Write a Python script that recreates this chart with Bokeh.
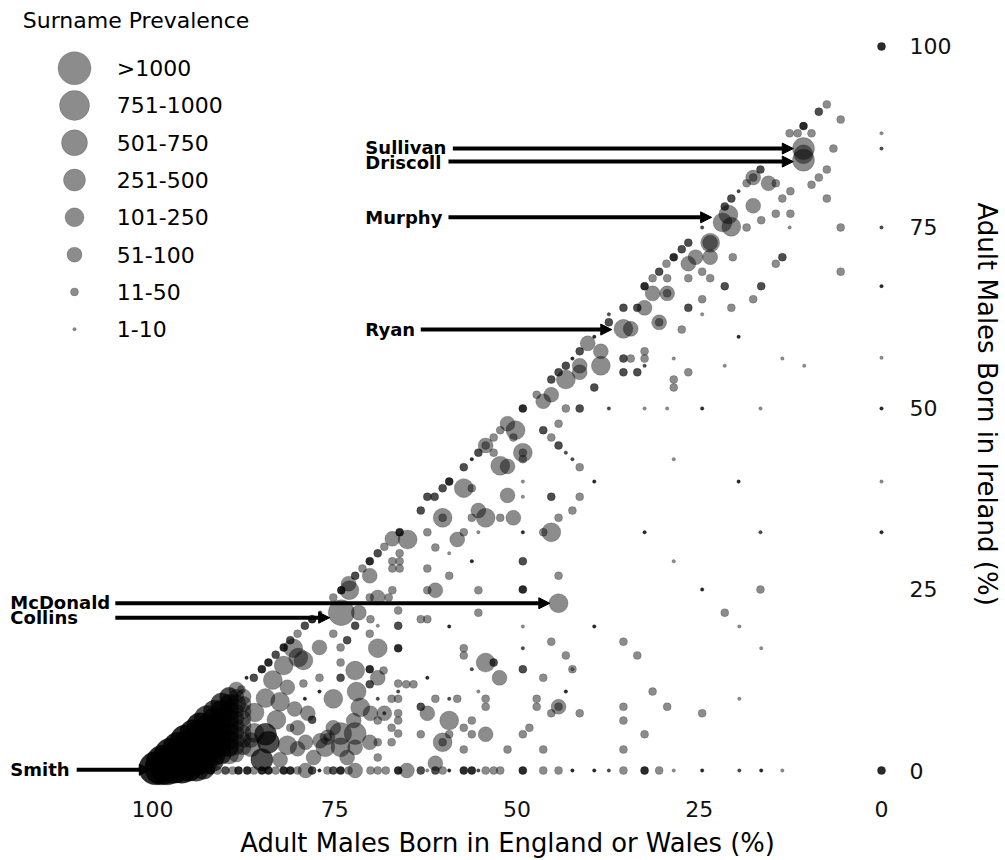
import math
from bokeh.plotting import figure
from bokeh.models import ColumnDataSource, Range1d, Arrow, NormalHead
from bokeh.core.properties import value
from bokeh.embed import file_html
from bokeh.resources import INLINE

# ---------------- data ----------------
# size_cat: 1 = "1-10", 2 = "11-50", 3 = "51-100", 4 = "101-250",
#           5 = "251-500", 6 = "501-750", 7 = "751-1000", 8 = ">1000"
# overlap: how many surnames sit on the same spot (darker dots)

# upper diagonal (Irish-heavy surnames)
a_eng = [0, 7.5, 8.6, 5.6, 10.7, 12.6, 11.5, 9.6, 0, 0,
         6.6, 10.7, 10.7, 10.7, 7.5, 8.6, 9.6, 16.6, 17.6, 17.6,
         18.5, 15.5, 14.5, 19.6, 20.6, 12.5, 13.6, 7.5, 17.6, 21.5,
         21.0, 21.8, 20.6, 14.5, 12.5, 16.5, 18.5, 12.6, 5.6, 0,
         24.6, 26.5, 23.5, 23.5, 27.4, 28.5, 25.5, 26.5, 23.5, 20.4,
         13.6, 14.5, 29.5, 30.5, 31.4, 29.4, 26.5, 24.6, 23.5, 5.6,
         0, 32.5, 31.4, 29.4, 29.4, 21.5, 16.5, 24.6, 17.6, 26.5,
         20.6]
a_ire = [100, 92.0, 91.0, 89.9, 89.0, 88.0, 88.0, 88.0, 88.0, 85.9,
         85.9, 85.9, 85.1, 84.3, 83.0, 81.9, 80.9, 83.0, 81.9, 81.9,
         81.1, 81.1, 81.1, 80.0, 79.0, 80.0, 79.0, 79.0, 78.0, 77.9,
         76.8, 75.7, 75.1, 76.9, 76.9, 76.0, 75.0, 75.0, 75.0, 75.0,
         75.0, 72.9, 72.9, 72.9, 72.0, 70.9, 70.9, 70.0, 70.9, 70.9,
         70.9, 70.0, 70.0, 68.9, 68.0, 68.0, 68.0, 68.9, 68.0, 68.9,
         66.9, 66.9, 65.9, 65.9, 65.9, 66.9, 66.9, 65.1, 65.1, 63.9,
         63.9]
a_cat = [2, 2, 2, 2, 2, 2, 2, 2, 1, 1,
         2, 5, 4, 5, 2, 2, 2, 2, 3, 2,
         2, 3, 2, 1, 2, 2, 2, 2, 3, 2,
         4, 4, 4, 2, 2, 2, 2, 1, 2, 1,
         1, 2, 4, 3, 2, 2, 3, 3, 3, 2,
         2, 2, 2, 2, 2, 2, 2, 2, 2, 2,
         1, 2, 3, 3, 2, 2, 2, 2, 2, 2,
         2]
a_cnt = [3, 1, 2, 1, 3, 1, 1, 1, 1, 2,
         1, 1, 1, 1, 1, 1, 1, 2, 1, 1,
         1, 1, 1, 2, 2, 1, 1, 1, 1, 2,
         1, 1, 1, 1, 1, 1, 1, 1, 1, 2,
         2, 2, 1, 1, 2, 3, 1, 1, 1, 1,
         2, 1, 1, 2, 1, 1, 1, 1, 1, 1,
         3, 3, 1, 1, 1, 2, 2, 1, 1, 2,
         1]

b_eng = [35.4, 33.5, 32.5, 37.4, 37.4, 35.4, 34.4, 30.5, 30.5, 27.4,
         24.6, 19.6, 39.4, 40.3, 41.4, 38.5, 42.4, 43.3, 41.4, 38.5,
         44.3, 41.4, 45.3, 43.3, 39.4, 47.3, 45.3, 46.4, 35.4, 34.4,
         32.5, 32.5, 32.5, 28.5, 35.4, 33.5, 26.5, 28.5, 28.5, 21.5,
         13.6, 10.6, 0]
b_ire = [63.9, 63.9, 63.9, 63.0, 61.9, 61.0, 61.0, 61.9, 61.9, 60.9,
         63.0, 59.9, 59.9, 59.0, 57.9, 57.9, 56.9, 55.9, 55.9, 55.9,
         55.0, 55.0, 54.0, 54.0, 52.9, 51.9, 51.9, 51.0, 56.9, 56.9,
         57.9, 56.9, 55.9, 56.9, 55.0, 55.0, 55.0, 54.0, 52.9, 55.9,
         56.9, 55.9, 57.0]
b_cat = [2, 2, 3, 1, 2, 4, 3, 3, 2, 2,
         1, 1, 1, 3, 2, 3, 1, 2, 3, 4,
         2, 3, 2, 4, 2, 2, 3, 3, 2, 2,
         2, 2, 1, 1, 2, 2, 2, 2, 2, 1,
         1, 1, 1]
b_cnt = [2, 2, 1, 2, 2, 1, 1, 1, 1, 1,
         1, 3, 3, 1, 2, 1, 3, 2, 1, 1,
         2, 1, 2, 1, 2, 1, 1, 1, 2, 1,
         1, 1, 2, 1, 2, 2, 1, 1, 1, 1,
         1, 1, 1]

c_eng = [49.2, 43.3, 41.4, 37.4, 32.5, 29.4, 24.6, 16.6, 0, 46.4,
         45.3, 44.3, 43.3, 42.4, 41.4, 44.3, 51.3, 50.2, 52.3, 53.2,
         50.5, 54.3, 54.3, 55.3, 53.2, 49.2, 49.2, 49.2, 52.3, 51.3,
         56.2, 57.3, 28.5, 49.2, 39.4, 19.6, 0, 51.3, 49.2, 45.3,
         41.4, 59.3, 60.2, 61.3, 62.3, 57.3, 56.2, 50.5, 52.3, 44.3,
         42.4, 45.3, 46.4, 49.2, 32.5, 16.6, 0, 49.2, 28.5, 44.3,
         49.2, 24.6, 16.6, 44.3]
c_ire = [50.0, 50.0, 50.0, 50.0, 50.0, 50.0, 50.0, 50.0, 50.0, 47.0,
         46.0, 44.9, 43.9, 43.0, 41.9, 47.9, 47.9, 47.0, 47.0, 46.0,
         46.0, 44.9, 44.9, 43.9, 43.9, 43.9, 43.9, 43.0, 42.1, 42.0,
         43.0, 41.9, 43.0, 39.9, 39.9, 39.9, 39.9, 38.0, 37.8, 37.8,
         37.8, 39.9, 39.0, 37.8, 37.8, 39.0, 39.0, 34.9, 34.9, 34.9,
         35.9, 32.9, 32.9, 32.9, 32.9, 32.9, 32.9, 28.9, 28.9, 26.9,
         25.0, 25.0, 25.0, 23.1]
c_cat = [2, 2, 2, 1, 1, 1, 1, 1, 1, 2,
         2, 2, 1, 1, 2, 2, 3, 4, 2, 2,
         2, 3, 2, 2, 2, 4, 2, 2, 4, 3,
         1, 2, 1, 1, 1, 1, 1, 3, 1, 2,
         2, 2, 2, 2, 2, 4, 2, 3, 2, 2,
         2, 4, 2, 1, 1, 1, 1, 2, 1, 2,
         2, 1, 2, 4]
c_cnt = [3, 1, 2, 2, 1, 1, 3, 1, 3, 2,
         1, 2, 2, 2, 1, 1, 1, 1, 1, 1,
         1, 1, 1, 2, 1, 1, 1, 1, 1, 1,
         3, 2, 1, 1, 3, 3, 1, 1, 1, 2,
         1, 3, 2, 2, 2, 1, 1, 1, 1, 1,
         1, 1, 1, 3, 3, 2, 3, 2, 1, 1,
         3, 3, 1, 1]

d_eng = [63.2, 60.2, 60.2, 55.3, 54.3, 56.2, 62.3, 58.2, 57.3, 55.3,
         66.1, 67.1, 65.0, 68.2, 69.1, 70.2, 71.2, 72.2, 70.2, 66.1,
         67.1, 66.1, 67.1, 66.1, 61.2, 59.3, 56.2, 62.3, 59.3, 73.1,
         74.1, 75.2, 73.0, 69.1, 67.1, 62.3, 61.2, 55.3]
d_ire = [35.9, 34.9, 34.9, 35.9, 34.9, 34.9, 32.9, 31.9, 32.9, 32.9,
         32.9, 32.0, 31.9, 30.9, 30.0, 28.9, 27.9, 26.9, 26.9, 30.0,
         28.9, 28.9, 27.9, 27.9, 30.8, 30.0, 28.9, 27.9, 26.9, 25.8,
         24.9, 23.9, 24.9, 23.9, 24.9, 24.9, 24.9, 24.9]
d_cat = [2, 4, 2, 3, 4, 2, 2, 3, 2, 1,
         2, 3, 4, 2, 2, 2, 2, 2, 3, 2,
         2, 2, 2, 2, 2, 1, 1, 2, 2, 3,
         2, 2, 4, 3, 2, 2, 3, 2]
d_cnt = [2, 1, 1, 1, 1, 1, 1, 1, 1, 1,
         3, 1, 1, 1, 2, 3, 1, 2, 1, 1,
         1, 1, 1, 1, 1, 1, 3, 1, 1, 1,
         3, 1, 1, 1, 1, 1, 1, 1]

e_eng = [55.3, 63.2, 62.3, 59.3, 49.2, 39.4, 45.3, 35.4, 57.3, 49.2,
         57.3, 43.3, 33.5, 54.3, 53.2, 56.2, 49.2, 42.4, 42.4, 52.4,
         46.4, 62.3, 65.2, 64.2, 55.3, 43.3, 31.4, 61.2, 59.3, 58.2,
         54.3, 47.3, 63.2, 54.3, 47.3, 44.3, 44.3, 35.4, 62.3, 59.3,
         56.2, 45.3, 41.4, 35.4, 57.3, 48.3, 63.2, 59.3, 56.2, 54.3,
         49.2, 32.5, 60.2, 60.2, 57.3, 51.3, 46.4, 35.4, 61.2, 21.5,
         19.5, 16.5, 29.4, 24.6, 19.5]
e_ire = [21.8, 20.9, 20.9, 19.9, 19.9, 19.9, 17.8, 17.8, 16.9, 16.9,
         15.9, 15.9, 15.9, 14.9, 14.9, 14.0, 14.0, 14.0, 14.0, 12.8,
         12.8, 12.8, 11.9, 11.9, 10.9, 10.9, 10.9, 9.9, 9.9, 9.9,
         9.9, 9.9, 8.8, 8.8, 8.8, 8.8, 8.8, 8.8, 7.9, 6.9,
         6.9, 7.9, 7.9, 6.9, 5.9, 5.9, 5.0, 5.0, 5.0, 5.0,
         5.0, 5.0, 3.9, 3.9, 2.9, 2.9, 2.9, 2.9, 1.0, 21.8,
         19.9, 16.9, 8.8, 7.9, 9.9]
e_cat = [2, 2, 2, 1, 1, 1, 2, 2, 2, 1,
         2, 2, 2, 4, 2, 1, 2, 2, 1, 3,
         2, 1, 2, 2, 1, 1, 2, 2, 1, 2,
         2, 2, 2, 2, 2, 3, 2, 2, 3, 4,
         2, 2, 2, 2, 2, 2, 2, 2, 2, 3,
         2, 2, 4, 2, 2, 2, 2, 2, 3, 2,
         1, 1, 2, 2, 1]
e_cnt = [1, 1, 1, 3, 1, 3, 1, 1, 1, 2,
         1, 1, 1, 1, 2, 2, 2, 1, 1, 1,
         1, 3, 1, 1, 1, 3, 1, 1, 2, 1,
         1, 1, 2, 1, 1, 1, 1, 1, 1, 1,
         1, 1, 1, 1, 1, 1, 1, 1, 1, 1,
         1, 1, 1, 1, 1, 1, 1, 1, 1, 1,
         1, 1, 1, 1, 1]

# surnames with no Irish-born men (bottom row, Ireland = 0)
f_eng = [92.0, 91.1, 90.0, 89.0, 88.2, 87.0, 86.1, 85.0, 84.1, 83.1,
         82.0, 81.1, 80.1, 79.0, 78.1, 77.1, 76.0, 75.2, 74.2, 73.1,
         72.2, 70.1, 69.1, 68.0, 66.3, 65.1, 63.2, 62.3, 61.2, 60.2,
         59.3, 57.3, 56.2, 55.3, 54.3, 53.2, 52.3, 49.2, 46.4, 44.3,
         42.4, 39.4, 37.4, 35.4, 32.5, 30.5, 28.5, 24.6, 19.5, 16.5,
         13.6, 0]
f_cat = [2, 2, 2, 2, 2, 2, 2, 2, 2, 2,
         2, 2, 2, 3, 2, 1, 2, 2, 2, 2,
         3, 2, 2, 2, 2, 3, 2, 1, 2, 2,
         1, 2, 2, 1, 2, 2, 2, 2, 2, 2,
         1, 1, 1, 2, 2, 2, 1, 1, 1, 1,
         1, 2]
f_cnt = [3, 1, 2, 1, 3, 3, 1, 3, 3, 1,
         3, 3, 1, 1, 2, 3, 1, 2, 3, 1,
         1, 1, 1, 1, 3, 1, 2, 1, 2, 1,
         3, 3, 3, 2, 1, 1, 1, 3, 1, 1,
         3, 3, 2, 1, 3, 1, 1, 3, 2, 3,
         1, 3]

g_eng = [74.1, 77.0, 78.1, 79.1, 80.1, 81.1, 82.0, 83.1, 84.1, 85.0,
         86.1, 87.1, 71.7, 70.2, 67.6, 70.1, 69.1, 66.3, 66.3, 66.3,
         72.2, 75.2, 73.3, 70.2, 69.1, 77.1, 74.2, 80.0, 79.3, 80.7,
         74.2, 72.2, 70.2, 68.3, 69.1, 66.3, 74.2, 77.1, 79.3, 77.1,
         79.1, 75.2, 72.0, 70.2, 69.1, 67.2, 66.3, 66.3, 71.5, 70.1,
         68.2, 68.2, 66.3, 66.3, 67.2, 66.3, 69.1, 72.4, 72.2, 74.2,
         75.2, 76.0, 76.0, 76.3, 74.2, 73.3, 72.2, 70.2, 69.1, 67.2,
         69.1, 78.7, 78.1, 80.1, 81.1, 79.0, 80.1, 77.9, 77.0, 82.0,
         83.5, 81.5, 82.5, 84.5, 80.5, 83.0, 81.5, 82.5, 84.5, 84.1,
         86.0, 85.0]
g_ire = [21.8, 21.8, 20.9, 20.0, 18.9, 18.0, 17.0, 16.0, 14.9, 14.0,
         12.8, 12.8, 21.8, 23.9, 23.9, 20.9, 20.0, 22.1, 20.0, 16.9,
         20.0, 18.9, 18.0, 18.9, 16.9, 17.0, 17.0, 15.6, 15.2, 16.9,
         14.9, 13.8, 14.0, 13.8, 12.8, 12.0, 12.8, 12.8, 12.0, 10.9,
         9.9, 9.9, 10.9, 11.9, 9.9, 9.9, 9.9, 10.9, 8.7, 7.9,
         7.9, 7.9, 7.9, 6.9, 5.9, 5.1, 6.9, 6.9, 5.1, 5.1,
         5.9, 4.6, 4.6, 3.2, 3.2, 1.8, 3.2, 3.9, 3.9, 3.9,
         1.8, 7.9, 7.0, 5.9, 5.9, 3.9, 3.0, 1.8, 4.1, 14.5,
         12.5, 11.5, 9.5, 10.0, 8.5, 7.0, 3.5, 1.5, 5.0, 3.9,
         8.0, 1.5]
g_cat = [6, 1, 2, 2, 2, 2, 2, 2, 2, 2,
         2, 1, 3, 2, 2, 2, 1, 2, 2, 2,
         2, 2, 2, 2, 4, 3, 2, 4, 4, 4,
         2, 4, 2, 2, 3, 2, 2, 2, 2, 1,
         1, 4, 4, 2, 1, 2, 2, 1, 4, 3,
         3, 1, 2, 2, 2, 2, 2, 3, 5, 5,
         3, 3, 2, 4, 4, 3, 3, 3, 2, 2,
         2, 3, 2, 3, 2, 3, 3, 3, 3, 4,
         4, 3, 4, 4, 3, 4, 4, 3, 5, 5,
         4, 5]
g_cnt = [1, 3, 3, 2, 1, 2, 3, 2, 3, 3,
         2, 3, 1, 1, 1, 1, 1, 1, 2, 3,
         2, 1, 2, 1, 1, 1, 1, 1, 1, 1,
         1, 1, 3, 1, 1, 1, 2, 1, 1, 3,
         3, 1, 1, 2, 2, 1, 1, 2, 1, 1,
         1, 2, 1, 1, 1, 1, 1, 1, 1, 1,
         1, 1, 1, 1, 1, 1, 1, 1, 1, 1,
         1, 1, 2, 1, 1, 1, 1, 1, 1, 1,
         1, 1, 1, 1, 1, 1, 1, 1, 2, 2,
         1, 2]

# dense core of English surnames near (100, 0)
h_eng = [99.6, 98.8, 98.0, 97.0, 96.0, 95.0, 94.0, 93.0,
         98.6, 97.6, 96.6, 95.6, 94.6, 93.6, 92.6, 91.6,
         97.5, 96.5, 95.5, 94.5, 93.5, 92.5, 91.5, 90.5, 89.5, 88.5,
         96.5, 95.5, 94.5, 93.5, 92.5, 91.5, 90.5, 89.5, 88.5, 87.5, 86.5,
         95.5, 94.5, 93.5, 92.5, 91.5, 90.5, 89.5, 88.5, 87.5, 86.5,
         94.5, 93.5, 92.5, 91.5, 90.5, 89.5, 88.5, 87.5, 86.0,
         93.5, 92.5, 91.5, 90.5, 89.5, 88.5, 87.5,
         92.5, 91.5, 90.5, 89.5, 88.5, 87.5,
         91.5, 90.5, 89.5, 88.5, 87.5,
         90.5, 89.5, 88.5, 87.5,
         89.5, 88.5, 87.5,
         88.5, 87.8]
h_ire = [0.3, 0.3, 0.3, 0.3, 0.3, 0.3, 0.3, 0.3,
         1.2, 1.2, 1.2, 1.2, 1.2, 1.2, 1.2, 1.2,
         2.2, 2.2, 2.2, 2.2, 2.2, 2.2, 2.2, 2.2, 2.2, 2.2,
         3.2, 3.2, 3.2, 3.2, 3.2, 3.2, 3.2, 3.2, 3.2, 3.2, 3.2,
         4.2, 4.2, 4.2, 4.2, 4.2, 4.2, 4.2, 4.2, 4.2, 4.2,
         5.2, 5.2, 5.2, 5.2, 5.2, 5.2, 5.2, 5.2, 5.2,
         6.2, 6.2, 6.2, 6.2, 6.2, 6.2, 6.2,
         7.2, 7.2, 7.2, 7.2, 7.2, 7.2,
         8.2, 8.2, 8.2, 8.2, 8.2,
         9.2, 9.2, 9.2, 9.2,
         10.2, 10.2, 10.2,
         11.2, 11.2]
h_cat = [8, 8, 8, 7, 7, 6, 6, 5,
         8, 8, 7, 7, 6, 6, 5, 4,
         8, 7, 7, 6, 6, 5, 5, 4, 4, 3,
         7, 7, 6, 6, 5, 5, 4, 4, 3, 3, 4,
         7, 6, 6, 5, 5, 4, 4, 3, 3, 3,
         6, 6, 5, 5, 4, 4, 3, 3, 4,
         6, 5, 5, 4, 4, 3, 3,
         6, 5, 4, 4, 3, 3,
         5, 5, 4, 3, 3,
         5, 4, 4, 3,
         4, 3, 3,
         3, 2]
h_cnt = [3, 3, 3, 3, 3, 3, 2, 2,
         3, 3, 3, 3, 3, 3, 2, 2,
         3, 3, 3, 3, 3, 2, 2, 2, 1, 1,
         3, 3, 3, 3, 2, 2, 2, 2, 1, 1, 1,
         3, 3, 3, 2, 2, 2, 2, 1, 1, 1,
         3, 3, 2, 2, 2, 2, 1, 1, 1,
         3, 2, 2, 2, 2, 1, 1,
         2, 2, 2, 2, 1, 1,
         2, 2, 2, 1, 1,
         2, 2, 1, 1,
         2, 1, 1,
         1, 1]

size_labels = ["1-10", "11-50", "51-100", "101-250",
               "251-500", "501-750", "751-1000", ">1000"]
tick_values = [0, 25, 50, 75, 100]
tick_labels = ["0", "25", "50", "75", "100"]
x_title = "Adult Males Born in England or Wales (%)"
y_title = "Adult Males Born in Ireland (%)"

# labelled surnames
ann_names = ["Sullivan", "Driscoll", "Murphy", "Ryan", "McDonald", "Collins", "Smith"]
ann_text_x = [70.8, 70.8, 70.8, 70.8, 119.5, 119.5, 119.5]
ann_text_y = [86.0, 84.0, 76.4, 60.9, 23.2, 21.1, 0.1]
ann_arrow_y = [85.9, 84.1, 76.4, 60.9, 23.1, 21.1, 0.1]
ann_from_x = [58.8, 59.4, 59.4, 63.2, 105.1, 105.1, 110.4]
ann_to_x = [12.1, 12.1, 23.3, 37.0, 45.5, 75.7, 100.3]

# ---------------- styling / layout constants (data units) ----------------
FONT = "DejaVu Sans"
SIZE_PX = [3.5, 8, 15, 19, 22, 26, 30, 33]   # marker diameter for each category
BASE_ALPHA = 0.45
LEG_GLYPH_X, LEG_LABEL_X = 110.7, 104.9
LEG_TOP_Y, LEG_STEP = 97.0, 5.15
LEG_TITLE_X, LEG_TITLE_Y = 117.8, 103.6
XTICK_Y = -5.25          # vertical position of the x tick labels
YTICK_X = -3.84          # left edge of the y tick labels (right-hand axis)
XTITLE_POS = (51.3, -9.95)
YTITLE_POS = (-14.45, 50.6)

# ---------------- assemble ----------------
eng = a_eng + b_eng + c_eng + d_eng + e_eng + f_eng + g_eng + h_eng
ire = a_ire + b_ire + c_ire + d_ire + e_ire + [0.0] * len(f_eng) + g_ire + h_ire
cat = a_cat + b_cat + c_cat + d_cat + e_cat + f_cat + g_cat + h_cat
cnt = a_cnt + b_cnt + c_cnt + d_cnt + e_cnt + f_cnt + g_cnt + h_cnt
assert len(eng) == len(ire) == len(cat) == len(cnt)

alpha = [1 - (1 - BASE_ALPHA) ** n for n in cnt]
src = ColumnDataSource(dict(
    x=eng, y=ire,
    size=[SIZE_PX[c - 1] for c in cat],
    fa=alpha,
    la=[a * 0.55 for a in alpha],
))

# the frame covers the whole page; axes (tick labels + titles) are drawn as text
p = figure(width=1005, height=860,
           x_range=Range1d(120.85, -17.01), y_range=Range1d(-12.43, 106.35),
           x_axis_location=None, y_axis_location=None,
           output_backend="svg", toolbar_location=None,
           min_border=0)
p.outline_line_color = None
p.xgrid.visible = False
p.ygrid.visible = False
p.background_fill_color = "white"
p.border_fill_color = "white"

p.scatter("x", "y", size="size", source=src, marker="circle",
          fill_color="black", fill_alpha="fa",
          line_color="black", line_alpha="la", line_width=0.7)

# axes: tick labels and titles
p.text(x=tick_values, y=[XTICK_Y] * len(tick_values), text=tick_labels,
       text_font=value(FONT), text_font_size="22px", text_color="#111111",
       text_align="center", text_baseline="middle")
p.text(x=[YTICK_X] * len(tick_values), y=tick_values, text=tick_labels,
       text_font=value(FONT), text_font_size="22px", text_color="#111111",
       text_align="left", text_baseline="middle")
p.text(x=[XTITLE_POS[0]], y=[XTITLE_POS[1]], text=[x_title],
       text_font=value(FONT), text_font_size="25.8px", text_color="black",
       text_align="center", text_baseline="middle")
p.text(x=[YTITLE_POS[0]], y=[YTITLE_POS[1]], text=[y_title], angle=-math.pi / 2,
       text_font=value(FONT), text_font_size="26px", text_color="black",
       text_align="center", text_baseline="middle")

# arrows + labels
for ay, x0, x1 in zip(ann_arrow_y, ann_from_x, ann_to_x):
    p.add_layout(Arrow(x_start=x0, y_start=ay, x_end=x1, y_end=ay,
                       line_width=4, line_color="black",
                       end=NormalHead(size=11, fill_color="black",
                                      line_color="black", line_width=1)))
p.text(x=ann_text_x, y=ann_text_y, text=ann_names,
       text_font=value(FONT), text_font_size="18px", text_font_style="bold",
       text_align="left", text_baseline="middle", text_color="black")

# legend (drawn by hand so marker sizes match)
order = list(range(len(size_labels)))[::-1]      # biggest first
leg_y = [LEG_TOP_Y - i * LEG_STEP for i in range(len(order))]
p.scatter(x=[LEG_GLYPH_X] * len(order), y=leg_y,
          size=[SIZE_PX[k] for k in order], marker="circle",
          fill_color="black", fill_alpha=BASE_ALPHA,
          line_color="black", line_alpha=BASE_ALPHA * 0.55, line_width=0.7)
p.text(x=[LEG_LABEL_X] * len(order), y=leg_y, text=[size_labels[k] for k in order],
       text_font=value(FONT), text_font_size="22px",
       text_align="left", text_baseline="middle", text_color="black")
p.text(x=[LEG_TITLE_X], y=[LEG_TITLE_Y], text=["Surname Prevalence"],
       text_font=value(FONT), text_font_size="22px",
       text_align="left", text_baseline="middle", text_color="black")

open("out.html", "w").write(file_html(p, INLINE))
